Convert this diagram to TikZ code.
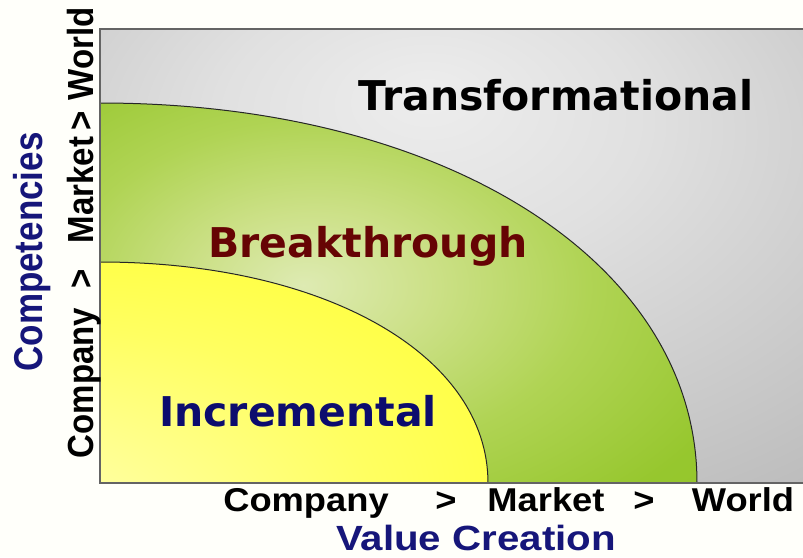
\documentclass[tikz,border=0pt]{standalone}
\usepackage{fontspec}
\usepackage{tikz}
\usetikzlibrary{positioning}
\newfontfamily\zonefont{DejaVu Sans}
\newfontfamily\axisfont{Liberation Sans}
\definecolor{paper}{RGB}{255,255,250}
\definecolor{breakred}{RGB}{102,4,4}
\definecolor{incblue}{RGB}{12,12,110}
\definecolor{axisblue}{RGB}{22,22,122}
\definecolor{framegray}{RGB}{100,100,100}
\pgfdeclareradialshading{grayglow}{\pgfpoint{-2bp}{18bp}}{rgb(0bp)=(0.93,0.93,0.93); rgb(15bp)=(0.88,0.88,0.88); rgb(35bp)=(0.78,0.78,0.78); rgb(55bp)=(0.68,0.68,0.68); rgb(90bp)=(0.62,0.62,0.62)}
\pgfdeclareradialshading{greenglow}{\pgfpoint{-8bp}{1bp}}{rgb(0bp)=(0.87,0.92,0.70); rgb(10bp)=(0.80,0.88,0.53); rgb(22bp)=(0.69,0.83,0.33); rgb(36bp)=(0.59,0.78,0.18); rgb(90bp)=(0.52,0.74,0.10)}
\pgfdeclareradialshading{yellowglow}{\pgfpoint{-50bp}{-50bp}}{rgb(0bp)=(1,1,0.80); rgb(20bp)=(1,1,0.62); rgb(40bp)=(1,1,0.38); rgb(60bp)=(1,1,0.20); rgb(100bp)=(1,1,0.12)}

\begin{document}
\begin{tikzpicture}[x=0.5pt, y=-0.5pt, zone/.style={font=\zonefont\bfseries\fontsize{20.5}{24}\selectfont, anchor=base, inner sep=0pt}, tick/.style={font=\axisfont\bfseries\fontsize{16.5}{20}\selectfont, anchor=base, inner sep=0pt, xscale=1.1}, axistitle/.style={font=\axisfont\bfseries\fontsize{17.5}{21}\selectfont, text=axisblue, anchor=base, inner sep=0pt, xscale=1.15}, arcline/.style={draw=black!85, line width=0.5pt}]

    \useasboundingbox[fill=paper] (0,0) rectangle (803,557);

    %Regions
    \shade[shading=grayglow] (100,29) rectangle (810,483);
    \shade[shading=greenglow] (100,483) -- (100,103) .. controls (446,103) and (697,263) .. (697,483) -- cycle;
    \shade[shading=yellowglow] (100,483) -- (100,262) .. controls (325,262) and (488,355) .. (488,483) -- cycle;

    %Lines
    \draw[arcline] (100,103) .. controls (446,103) and (697,263) .. (697,483);
    \draw[arcline] (100,262) .. controls (325,262) and (488,355) .. (488,483);
    \draw[draw=framegray, line width=0.9pt] (810,29) -- (100,29) -- (100,483) -- (810,483);

    %Nodes
    \node[zone](transformational) at (556,110) {Transformational};
    \node[zone, text=breakred](breakthrough) at (368,257) {Breakthrough};
    \node[zone, text=incblue](incremental) at (298,426) {Incremental};

    \node[tick](xcompany) at (306,511) {Company};
    \node[tick](xgta) at (446,511) {>};
    \node[tick](xmarket) at (546,511) {Market};
    \node[tick](xgtb) at (644,511) {>};
    \node[tick](xworld) at (743,511) {World};
    \node[axistitle](valuecreation) at (476,550) {Value Creation};

    \node[tick, rotate=90](ycompany) at (93,383) {Company};
    \node[tick, rotate=90](ygta) at (93,279) {>};
    \node[tick, rotate=90](ymarket) at (93,190) {Market};
    \node[tick, rotate=90](ygtb) at (93,121) {>};
    \node[tick, rotate=90](yworld) at (93,54) {World};
    \node[axistitle, rotate=90](competencies) at (42,252) {Competencies};

\end{tikzpicture}
\end{document}
